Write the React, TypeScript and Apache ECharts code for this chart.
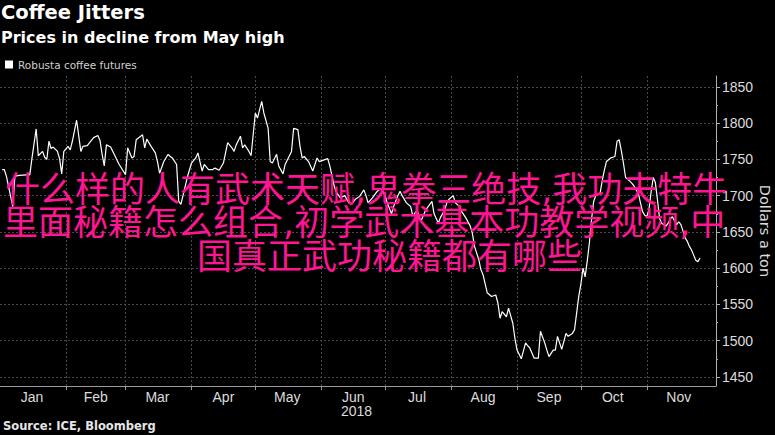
import { useEffect, useRef } from 'react';
import * as echarts from 'echarts';

// Robusta coffee futures, 2018 (dollars a ton)
const dates = [
  '2018-01-02','2018-01-03','2018-01-04','2018-01-07','2018-01-08','2018-01-10','2018-01-15','2018-01-16','2018-01-18','2018-01-19',
  '2018-01-21','2018-01-22','2018-01-23','2018-01-24','2018-01-25','2018-01-26','2018-01-28','2018-01-29','2018-01-30','2018-01-31',
  '2018-02-02','2018-02-03','2018-02-04','2018-02-06','2018-02-08','2018-02-09','2018-02-11','2018-02-14','2018-02-16','2018-02-17',
  '2018-02-18','2018-02-19','2018-02-20','2018-02-22','2018-02-24','2018-02-26',
  '2018-03-01','2018-03-02','2018-03-04','2018-03-05','2018-03-06','2018-03-09','2018-03-10','2018-03-11','2018-03-13','2018-03-15',
  '2018-03-16','2018-03-17','2018-03-19','2018-03-21','2018-03-22','2018-03-23','2018-03-25','2018-03-26','2018-03-27','2018-03-28','2018-03-30',
  '2018-04-01','2018-04-03','2018-04-04','2018-04-06','2018-04-07','2018-04-09','2018-04-11','2018-04-12','2018-04-14','2018-04-16',
  '2018-04-18','2018-04-20','2018-04-21','2018-04-22','2018-04-24','2018-04-25','2018-04-26','2018-04-28','2018-04-29',
  '2018-05-01','2018-05-02','2018-05-04','2018-05-05','2018-05-07','2018-05-08','2018-05-09','2018-05-11','2018-05-12','2018-05-14',
  '2018-05-15','2018-05-18','2018-05-19','2018-05-21','2018-05-22','2018-05-23','2018-05-24','2018-05-26','2018-05-28','2018-05-30','2018-05-31',
  '2018-06-02','2018-06-04','2018-06-05','2018-06-07','2018-06-08','2018-06-10','2018-06-12','2018-06-14','2018-06-15','2018-06-17',
  '2018-06-19','2018-06-21','2018-06-22','2018-06-23','2018-06-25','2018-06-27','2018-06-29',
  '2018-07-01','2018-07-02','2018-07-04','2018-07-05','2018-07-07','2018-07-08','2018-07-09','2018-07-11','2018-07-13','2018-07-14',
  '2018-07-16','2018-07-17','2018-07-18','2018-07-20','2018-07-22','2018-07-23','2018-07-24','2018-07-26','2018-07-27','2018-07-29',
  '2018-07-30','2018-07-31',
  '2018-08-02','2018-08-03','2018-08-05','2018-08-06','2018-08-08','2018-08-10','2018-08-11','2018-08-12','2018-08-14','2018-08-15',
  '2018-08-16','2018-08-18','2018-08-20','2018-08-22','2018-08-23','2018-08-24','2018-08-25','2018-08-27','2018-08-28','2018-08-30','2018-08-31',
  '2018-09-01','2018-09-03','2018-09-05','2018-09-06','2018-09-07','2018-09-09','2018-09-11','2018-09-12','2018-09-14','2018-09-15',
  '2018-09-16','2018-09-18','2018-09-19','2018-09-20','2018-09-22','2018-09-23','2018-09-24','2018-09-25','2018-09-27','2018-09-28',
  '2018-09-29','2018-09-30',
  '2018-10-01','2018-10-02','2018-10-03','2018-10-04','2018-10-05','2018-10-06','2018-10-07','2018-10-08','2018-10-10','2018-10-11',
  '2018-10-12','2018-10-13','2018-10-15','2018-10-16','2018-10-17','2018-10-18','2018-10-19','2018-10-20','2018-10-21','2018-10-22',
  '2018-10-24','2018-10-25','2018-10-26','2018-10-27','2018-10-28','2018-10-29','2018-10-30','2018-10-31',
  '2018-11-01','2018-11-02','2018-11-03','2018-11-04','2018-11-05','2018-11-06','2018-11-07','2018-11-08','2018-11-09','2018-11-10',
  '2018-11-11','2018-11-12','2018-11-13','2018-11-14','2018-11-15','2018-11-16','2018-11-17','2018-11-18','2018-11-19','2018-11-20',
  '2018-11-21','2018-11-22','2018-11-23','2018-11-24','2018-11-25','2018-11-26',
];

const prices = [
  1736,1736,1727,1685,1727,1728,1729,1751,1792,1755,
  1761,1753,1750,1775,1765,1767,1761,1751,1730,1761,
  1768,1763,1775,1804,1761,1768,1769,1780,1783,1776,
  1757,1741,1770,1767,1755,1743,
  1729,1766,1752,1754,1777,1784,1766,1778,1768,1759,
  1747,1731,1747,1757,1754,1752,1743,1692,1688,1700,1725,
  1745,1752,1759,1734,1743,1736,1736,1738,1735,1745,
  1773,1766,1761,1770,1782,1766,1770,1761,1755,
  1814,1807,1830,1814,1793,1747,1745,1757,1741,1730,
  1743,1761,1793,1791,1768,1752,1754,1747,1734,1752,1747,
  1749,1751,1741,1714,1705,1697,1700,1690,1688,1695,
  1699,1708,1700,1690,1697,1705,1710,
  1700,1690,1675,1685,1700,1706,1700,1690,1685,1672,
  1680,1670,1666,1680,1688,1692,1675,1662,1670,1680,
  1690,1695,
  1700,1690,1685,1678,1669,1658,1648,1630,1612,1598,
  1591,1566,1561,1563,1552,1531,1540,1533,1545,1524,1503,
  1487,1475,1497,1493,1490,1476,1476,1513,1497,1487,
  1478,1487,1487,1506,1488,1499,1510,1506,1510,1515,
  1538,1561,
  1578,1600,1588,1610,1635,1667,1692,1700,1703,1720,
  1735,1747,1752,1753,1754,1775,1777,1762,1745,1725,
  1720,1717,1713,1708,1703,1690,1678,1673,
  1671,1681,1705,1725,1718,1694,1668,1662,1660,1658,
  1662,1668,1671,1665,1660,1664,1660,1651,1642,1637,
  1630,1625,1618,1611,1609,1614,
];

const monthStarts = ['2018-02-01','2018-03-01','2018-04-01','2018-05-01','2018-06-01','2018-07-01','2018-08-01','2018-09-01','2018-10-01','2018-11-01'];
const monthMids = ['2018-01-16','2018-02-15','2018-03-16','2018-04-16','2018-05-16','2018-06-16','2018-07-16','2018-08-16','2018-09-16','2018-10-16','2018-11-16'];
const monthLabels = ['Jan','Feb','Mar','Apr','May','Jun','Jul','Aug','Sep','Oct','Nov'];
const yTicks = [1450,1500,1550,1600,1650,1700,1750,1800,1850];
const xRange = ['2018-01-01T00:00:00', '2018-12-03T12:00:00'];

const overlayLines = [
  '什么样的人有武术天赋,鬼拳三绝技,我功夫特牛',
  '里面秘籍怎么组合,初学武术基本功教学视频,中',
  '国真正武功秘籍都有哪些',
];

const PINK = '#ff1493';
const CJK_FONT = '"DejaVu Sans", "Noto Sans CJK SC", sans-serif';

const ts = (d: string) => new Date(d.length === 10 ? d + 'T00:00:00' : d).getTime();

export default function App() {
  const ref = useRef<HTMLDivElement>(null);

  useEffect(() => {
    document.body.style.margin = '0';
    document.body.style.background = '#000';
    if (!ref.current) return;
    const chart = echarts.init(ref.current, null, { renderer: 'svg' });
    const seriesData = dates.map((d, i) => [ts(d), prices[i]]);
    const midTs = monthMids.map(ts);

    chart.setOption({
      animation: false,
      backgroundColor: '#000',
      title: [
        {
          text: 'Coffee Jitters', left: 1, top: 2, padding: 0,
          textStyle: { color: '#fff', fontFamily: 'DejaVu Sans', fontWeight: 'bold', fontSize: 19.5 },
        },
        {
          text: 'Prices in decline from May high', left: 1, top: 29, padding: 0,
          textStyle: { color: '#fff', fontFamily: 'DejaVu Sans', fontWeight: 'bold', fontSize: 16 },
        },
        {
          text: 'Source: ICE, Bloomberg', left: 3, top: 420, padding: 0,
          textStyle: { color: '#e6e6e6', fontFamily: 'DejaVu Sans', fontWeight: 'bold', fontSize: 11.5 },
        },
      ],
      legend: {
        data: ['Robusta coffee futures'],
        left: 5, top: 59, padding: 0,
        icon: 'rect', itemWidth: 8, itemHeight: 8, itemGap: 10,
        textStyle: { color: '#d0d0d0', fontFamily: 'DejaVu Sans', fontSize: 10.5 },
      },
      grid: { left: 0, right: 59, top: 76, bottom: 49, containLabel: false, outerBoundsMode: 'none' },
      xAxis: {
        type: 'value',
        min: ts(xRange[0]),
        max: ts(xRange[1]),
        axisLine: { show: true, onZero: false, lineStyle: { color: '#9a9a9a', width: 1 } },
        axisTick: { show: true, length: 4, customValues: monthStarts.map(ts), lineStyle: { color: '#9a9a9a' } },
        axisLabel: {
          customValues: midTs,
          formatter: (v: number) => {
            const i = midTs.findIndex((m) => Math.abs(m - v) < 1000);
            return i >= 0 ? monthLabels[i] : '';
          },
          color: '#dcdcdc', fontFamily: 'Liberation Sans', fontSize: 14, margin: 4,
        },
        splitLine: { show: true, lineStyle: { color: '#4a4a4a', type: [2, 2], width: 1 } },
      },
      yAxis: {
        type: 'value',
        position: 'right',
        min: 1437.5,
        max: 1865,
        name: 'Dollars a ton',
        nameLocation: 'middle',
        nameRotate: -90,
        nameGap: 41,
        nameMoveOverlap: false,
        nameTextStyle: { color: '#dcdcdc', fontFamily: 'DejaVu Sans', fontSize: 14.5 },
        axisLine: { show: true, lineStyle: { color: '#b0b0b0', width: 1 } },
        axisTick: { show: true, length: 4, customValues: yTicks, lineStyle: { color: '#b0b0b0' } },
        minorTick: { show: true, splitNumber: 4, length: 2, lineStyle: { color: '#b0b0b0' } },
        axisLabel: {
          customValues: yTicks,
          formatter: (v: number) => String(v),
          color: '#dcdcdc', fontFamily: 'Liberation Sans', fontSize: 14, margin: 6,
        },
        splitLine: { show: true, lineStyle: { color: '#4a4a4a', type: [2, 2], width: 1 } },
      },
      series: [
        {
          name: 'Robusta coffee futures',
          type: 'line',
          data: seriesData,
          showSymbol: false,
          symbol: 'none',
          itemStyle: { color: '#ffffff' },
          lineStyle: { color: '#ffffff', width: 1.2 },
          z: 3,
        },
      ],
      graphic: [
        {
          type: 'text', left: 341, top: 404,
          style: { text: '2018', fill: '#dcdcdc', fontFamily: 'Liberation Sans', fontSize: 14 },
        },
        {
          type: 'text', x: 5, y: 190, z: 100,
          style: { text: overlayLines[0], fill: PINK, fontFamily: CJK_FONT, fontSize: 35, align: 'left', verticalAlign: 'middle' },
        },
        {
          type: 'text', x: 3, y: 223, z: 100,
          style: { text: overlayLines[1], fill: PINK, fontFamily: CJK_FONT, fontSize: 35, align: 'left', verticalAlign: 'middle' },
        },
        {
          type: 'text', x: 197, y: 257, z: 100,
          style: { text: overlayLines[2], fill: PINK, fontFamily: CJK_FONT, fontSize: 35, align: 'left', verticalAlign: 'middle' },
        },
      ],
    });

    return () => chart.dispose();
  }, []);

  return <div ref={ref} style={{ width: 775, height: 435 }} />;
}
